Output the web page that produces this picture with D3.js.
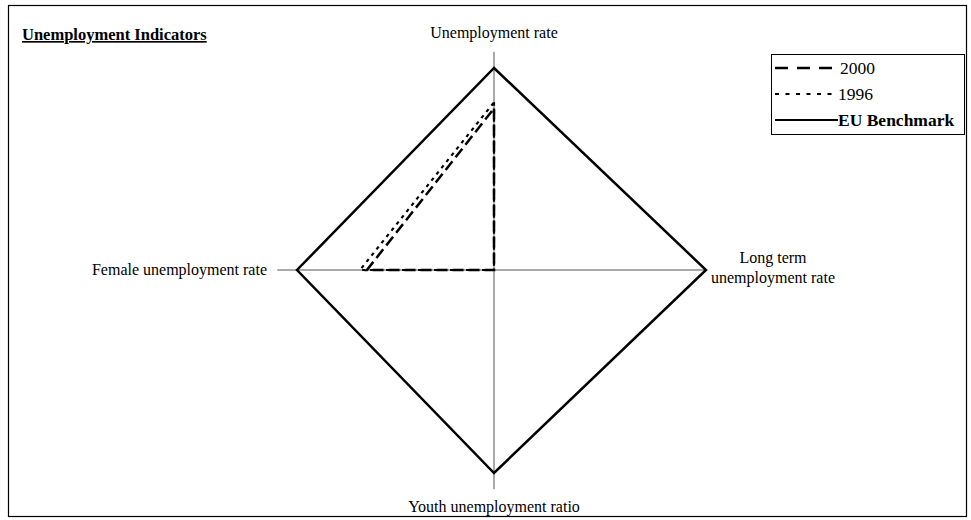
<!DOCTYPE html>
<html>
<head>
<meta charset="utf-8">
<script src="https://cdn.jsdelivr.net/npm/d3@7"></script>
<style>
  body { margin: 0; background: #fff; }
  svg text { font-family: "Liberation Serif", "Times New Roman", serif; fill: #000; }
</style>
</head>
<body>
<div id="chart"></div>
<script>
// axes, clockwise from the top
const axes = [
  "Unemployment rate",
  "Long term unemployment rate",
  "Youth unemployment ratio",
  "Female unemployment rate"
];
const axisMax = [1.08, 1.0, 1.08, 1.1];
const benchmark = [1, 1, 1, 1];
const values2000 = [0.8, 0, 0, 0.645];
const values1996 = [0.83, 0, 0, 0.68];
const seriesNames = ["2000", "1996", "EU Benchmark"];

const width = 971;
const height = 520;
const cx = 494;
const cy = 270;
// pixel length of the benchmark (value 1) on each axis
const unit = [202, 212, 203, 197];
const angles = [-Math.PI / 2, 0, Math.PI / 2, Math.PI];

const scales = axes.map((a, i) =>
  d3.scaleLinear().domain([0, 1]).range([0, unit[i]])
);

const px = (v, i) => cx + Math.cos(angles[i]) * scales[i](v);
const py = (v, i) => cy + Math.sin(angles[i]) * scales[i](v);

const svg = d3
  .select("#chart")
  .append("svg")
  .attr("width", width)
  .attr("height", height);

// frame
svg
  .append("rect")
  .attr("x", 8.5)
  .attr("y", 5.5)
  .attr("width", 958)
  .attr("height", 511)
  .attr("fill", "none")
  .attr("stroke", "#000")
  .attr("stroke-width", 1.2);

svg
  .append("text")
  .attr("x", 22)
  .attr("y", 40)
  .attr("font-size", 16.5)
  .attr("font-weight", "bold")
  .style("text-decoration", "underline")
  .text("Unemployment Indicators");

// axis lines
svg
  .selectAll(".axis")
  .data(axes)
  .enter()
  .append("line")
  .attr("class", "axis")
  .attr("x1", cx)
  .attr("y1", cy)
  .attr("x2", (d, i) => px(axisMax[i], i))
  .attr("y2", (d, i) => py(axisMax[i], i))
  .attr("stroke", "#555")
  .attr("stroke-width", 1);

const line = d3
  .line()
  .x((d, i) => px(d, i))
  .y((d, i) => py(d, i))
  .curve(d3.curveLinearClosed);

const series = [
  { values: values1996, dash: "3.5,4.5", width: 2.2 },
  { values: values2000, dash: "11,5", width: 2.5 },
  { values: benchmark, dash: null, width: 2.5 }
];

svg
  .selectAll(".series")
  .data(series)
  .enter()
  .append("path")
  .attr("class", "series")
  .attr("d", (d) => line(d.values))
  .attr("fill", "none")
  .attr("stroke", "#000")
  .attr("stroke-width", (d) => d.width)
  .attr("stroke-linejoin", "miter")
  .attr("stroke-dasharray", (d) => d.dash);

// axis labels
const labels = svg.append("g").attr("font-size", 16);
labels
  .append("text")
  .attr("x", cx)
  .attr("y", 38)
  .attr("text-anchor", "middle")
  .text(axes[0]);
const lt = labels
  .append("text")
  .attr("x", 773)
  .attr("y", 263)
  .attr("text-anchor", "middle");
lt.append("tspan").attr("x", 773).text("Long term");
lt.append("tspan").attr("x", 773).attr("dy", 20).text("unemployment rate");
labels
  .append("text")
  .attr("x", cx)
  .attr("y", 512)
  .attr("text-anchor", "middle")
  .text(axes[2]);
labels
  .append("text")
  .attr("x", 267)
  .attr("y", 275)
  .attr("text-anchor", "end")
  .text(axes[3]);

// legend
const legend = svg.append("g");
legend
  .append("rect")
  .attr("x", 771.5)
  .attr("y", 54.5)
  .attr("width", 193)
  .attr("height", 80)
  .attr("fill", "#fff")
  .attr("stroke", "#000")
  .attr("stroke-width", 1);

const legendItems = [
  { name: seriesNames[0], dash: "13,9", width: 2.5, x2: 832, tx: 840, y: 68 },
  { name: seriesNames[1], dash: "4,6.5", width: 2, x2: 838, tx: 838, y: 94 },
  { name: seriesNames[2], dash: null, width: 2, x2: 838, tx: 838, y: 120 }
];

const li = legend
  .selectAll(".item")
  .data(legendItems)
  .enter()
  .append("g")
  .attr("class", "item");

li.append("line")
  .attr("x1", 775)
  .attr("x2", (d) => d.x2)
  .attr("y1", (d) => d.y)
  .attr("y2", (d) => d.y)
  .attr("stroke", "#000")
  .attr("stroke-width", (d) => d.width)
  .attr("stroke-dasharray", (d) => d.dash);

li.append("text")
  .attr("x", (d) => d.tx)
  .attr("y", (d) => d.y + 6)
  .attr("font-size", 17.5)
  .attr("font-weight", (d, i) => (i === 2 ? "bold" : "normal"))
  .text((d) => d.name);
</script>
</body>
</html>
